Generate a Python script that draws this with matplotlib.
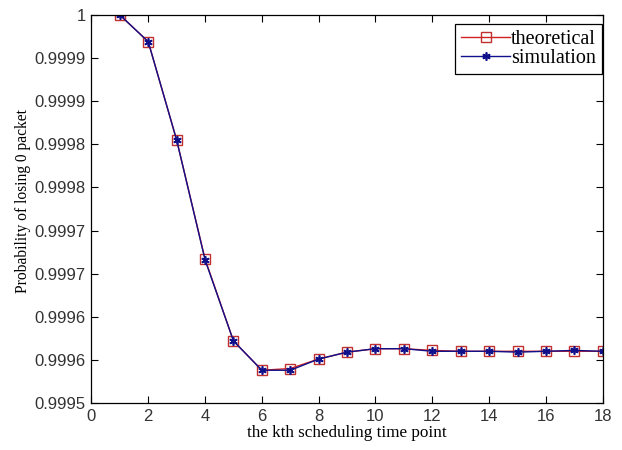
import numpy as np
import matplotlib
matplotlib.use('Agg')
import matplotlib.pyplot as plt

# pontos de agendamento
k = list(range(1, 19))

teorico = [0.99995, 0.999919, 0.999805, 0.999667, 0.999572, 0.999538,
           0.999540, 0.999551, 0.999559, 0.999563, 0.999563, 0.999561,
           0.999560, 0.999560, 0.999560, 0.999560, 0.999560, 0.999560]
simulacao = [0.99995, 0.999919, 0.999805, 0.999666, 0.999572, 0.999538,
             0.999538, 0.999551, 0.999559, 0.999563, 0.999563, 0.999560,
             0.999560, 0.999560, 0.999559, 0.999560, 0.999561, 0.999560]

y_ticks = [0.9995, 0.99955, 0.9996, 0.99965, 0.9997, 0.99975,
           0.9998, 0.99985, 0.9999, 0.99995]
y_labels = ['0.9995', '0.9996', '0.9996', '0.9997', '0.9997', '0.9998',
            '0.9998', '0.9999', '0.9999', '1']
x_ticks = list(range(0, 19, 2))

fig = plt.figure(figsize=(6.22, 4.5), dpi=100)
ax = fig.add_axes([0.147, 0.1044, 0.822, 0.8623])

ax.plot(k, teorico, '-s', color='#d02020', lw=1.0, ms=7.5,
        mfc='none', mec='#c03030', mew=1.0, label='theoretical')
# asterisco de 6 bracos, como no matlab
ax.plot(k, simulacao, '-', marker=(6, 2, 0), color='#10108a', lw=1.0, ms=6,
        mec='#10108a', mew=1.2, label='simulation')

ax.set_xlim(0, 18)
ax.set_ylim(0.9995, 0.99995)
ax.set_xticks(x_ticks)
ax.set_yticks(y_ticks)
ax.set_yticklabels(y_labels)

ax.tick_params(direction='in', top=True, right=True, length=5, width=0.8,
               labelsize=12, pad=4)
for lab in ax.get_xticklabels() + ax.get_yticklabels():
    lab.set_fontfamily('Liberation Sans')
    lab.set_color('#333333')
for s in ax.spines.values():
    s.set_linewidth(0.9)

ax.set_xlabel('the kth scheduling time point', family='Liberation Serif',
              fontsize=12.3, labelpad=1)
ax.set_ylabel('Probability of losing 0 packet', family='Liberation Serif',
              fontsize=11.2)
ax.yaxis.set_label_coords(-0.118, 0.52)

leg = ax.legend(loc='upper right', bbox_to_anchor=(0.998, 0.977),
                borderaxespad=0, fancybox=False, framealpha=1,
                edgecolor='black', prop={'family': 'Liberation Serif', 'size': 14.5},
                handlelength=2.4, handletextpad=0.05, labelspacing=0.0,
                borderpad=0.3)
leg.get_frame().set_linewidth(0.9)

fig.savefig('out.png', dpi=100)
